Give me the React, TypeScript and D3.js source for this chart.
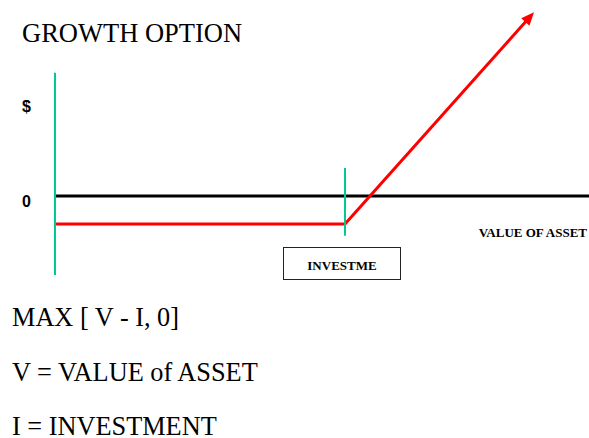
import React from "react";
import * as d3 from "d3";

// ---- data (chart units) ----
const investment = 58; // I
const premium = 5; // cost below zero for V < I
const assetValueMax = 95.8; // where the payoff arrow ends
const assetAxisMax = 106.8; // end of the zero line
const payoffPoints: [number, number][] = [
  [0, -premium],
  [investment, -premium],
  [assetValueMax, assetValueMax - investment - premium],
];
const yAxisExtent: [number, number] = [-14.1, 22];
const investmentMarkerExtent: [number, number] = [-7.1, 5];
const yTickLabels = [
  { label: "$", value: 17 },
  { label: "0", value: 0 },
];
const title = "GROWTH OPTION";
const xLabel = "VALUE OF ASSET";
const boxLabel = "INVESTME";
const notes = ["MAX [ V - I, 0]", "V = VALUE of ASSET", "I = INVESTMENT"];

const W = 589;
const H = 438;
const SERIF = "'Liberation Serif', 'Times New Roman', serif";
const SANS = "'Liberation Sans', Arial, sans-serif";
const GREEN = "#00C896";
const RED = "#FF0000";

export default function App() {
  const x = d3.scaleLinear().domain([0, assetAxisMax]).range([55, 589]);
  const y = d3.scaleLinear().domain([-premium, 33]).range([224, 11.2]);

  const line = d3
    .line<[number, number]>()
    .x((d) => x(d[0]))
    .y((d) => y(d[1]));

  // arrow head geometry (pixel space from scaled points)
  const p1 = payoffPoints[1];
  const p2 = payoffPoints[2];
  const tx = x(p2[0]);
  const ty = y(p2[1]);
  const dx = tx - x(p1[0]);
  const dy = ty - y(p1[1]);
  const len = Math.hypot(dx, dy);
  const ux = dx / len;
  const uy = dy / len;
  const headLen = 13;
  const headHalf = 5.5;
  const bx = tx - ux * headLen;
  const by = ty - uy * headLen;
  const head = [
    [tx, ty],
    [bx - uy * headHalf, by + ux * headHalf],
    [bx + uy * headHalf, by - ux * headHalf],
  ];
  const shaftEnd: [number, number] = [
    x.invert(tx - ux * (headLen - 2)),
    y.invert(ty - uy * (headLen - 2)),
  ];
  const shaftPts: [number, number][] = [payoffPoints[0], payoffPoints[1], shaftEnd];

  return (
    <svg
      width={W}
      height={H}
      style={{ position: "absolute", left: 0, top: 0, background: "#fff" }}
    >
      <rect x={0} y={0} width={W} height={H} fill="#fff" />
      <text x={22} y={42} fontFamily={SERIF} fontSize={26.5} fill="#000">
        {title}
      </text>

      {/* zero line */}
      <line
        x1={x(0) + 1}
        x2={x(assetAxisMax)}
        y1={y(0)}
        y2={y(0)}
        stroke="#000"
        strokeWidth={3}
      />

      {/* payoff */}
      <path
        d={line(shaftPts) || ""}
        fill="none"
        stroke={RED}
        strokeWidth={3}
        strokeLinejoin="miter"
      />
      <polygon points={head.map((p) => p.join(",")).join(" ")} fill={RED} />

      {/* y axis (green) */}
      <line
        x1={x(0)}
        x2={x(0)}
        y1={y(yAxisExtent[1])}
        y2={y(yAxisExtent[0])}
        stroke={GREEN}
        strokeWidth={2}
      />
      {/* investment marker */}
      <line
        x1={x(investment)}
        x2={x(investment)}
        y1={y(investmentMarkerExtent[1])}
        y2={y(investmentMarkerExtent[0])}
        stroke={GREEN}
        strokeWidth={2}
      />

      {yTickLabels.map((t) => (
        <text
          key={t.label}
          x={22}
          y={y(t.value) + 11}
          fontFamily={SANS}
          fontWeight="bold"
          fontSize={16}
          fill="#000"
        >
          {t.label}
        </text>
      ))}

      <text
        x={587}
        y={237}
        textAnchor="end"
        fontFamily={SERIF}
        fontWeight="bold"
        fontSize={13}
        fill="#000"
      >
        {xLabel}
      </text>

      <rect
        x={283.5}
        y={247.5}
        width={117}
        height={32}
        fill="#fff"
        stroke="#222"
        strokeWidth={1}
      />
      <text
        x={342}
        y={270}
        textAnchor="middle"
        fontFamily={SERIF}
        fontWeight="bold"
        fontSize={13}
        fill="#000"
      >
        {boxLabel}
      </text>

      {notes.map((n, i) => (
        <text
          key={n}
          x={12}
          y={326 + i * 54.5}
          fontFamily={SERIF}
          fontSize={26.3}
          fill="#000"
        >
          {n}
        </text>
      ))}
    </svg>
  );
}
